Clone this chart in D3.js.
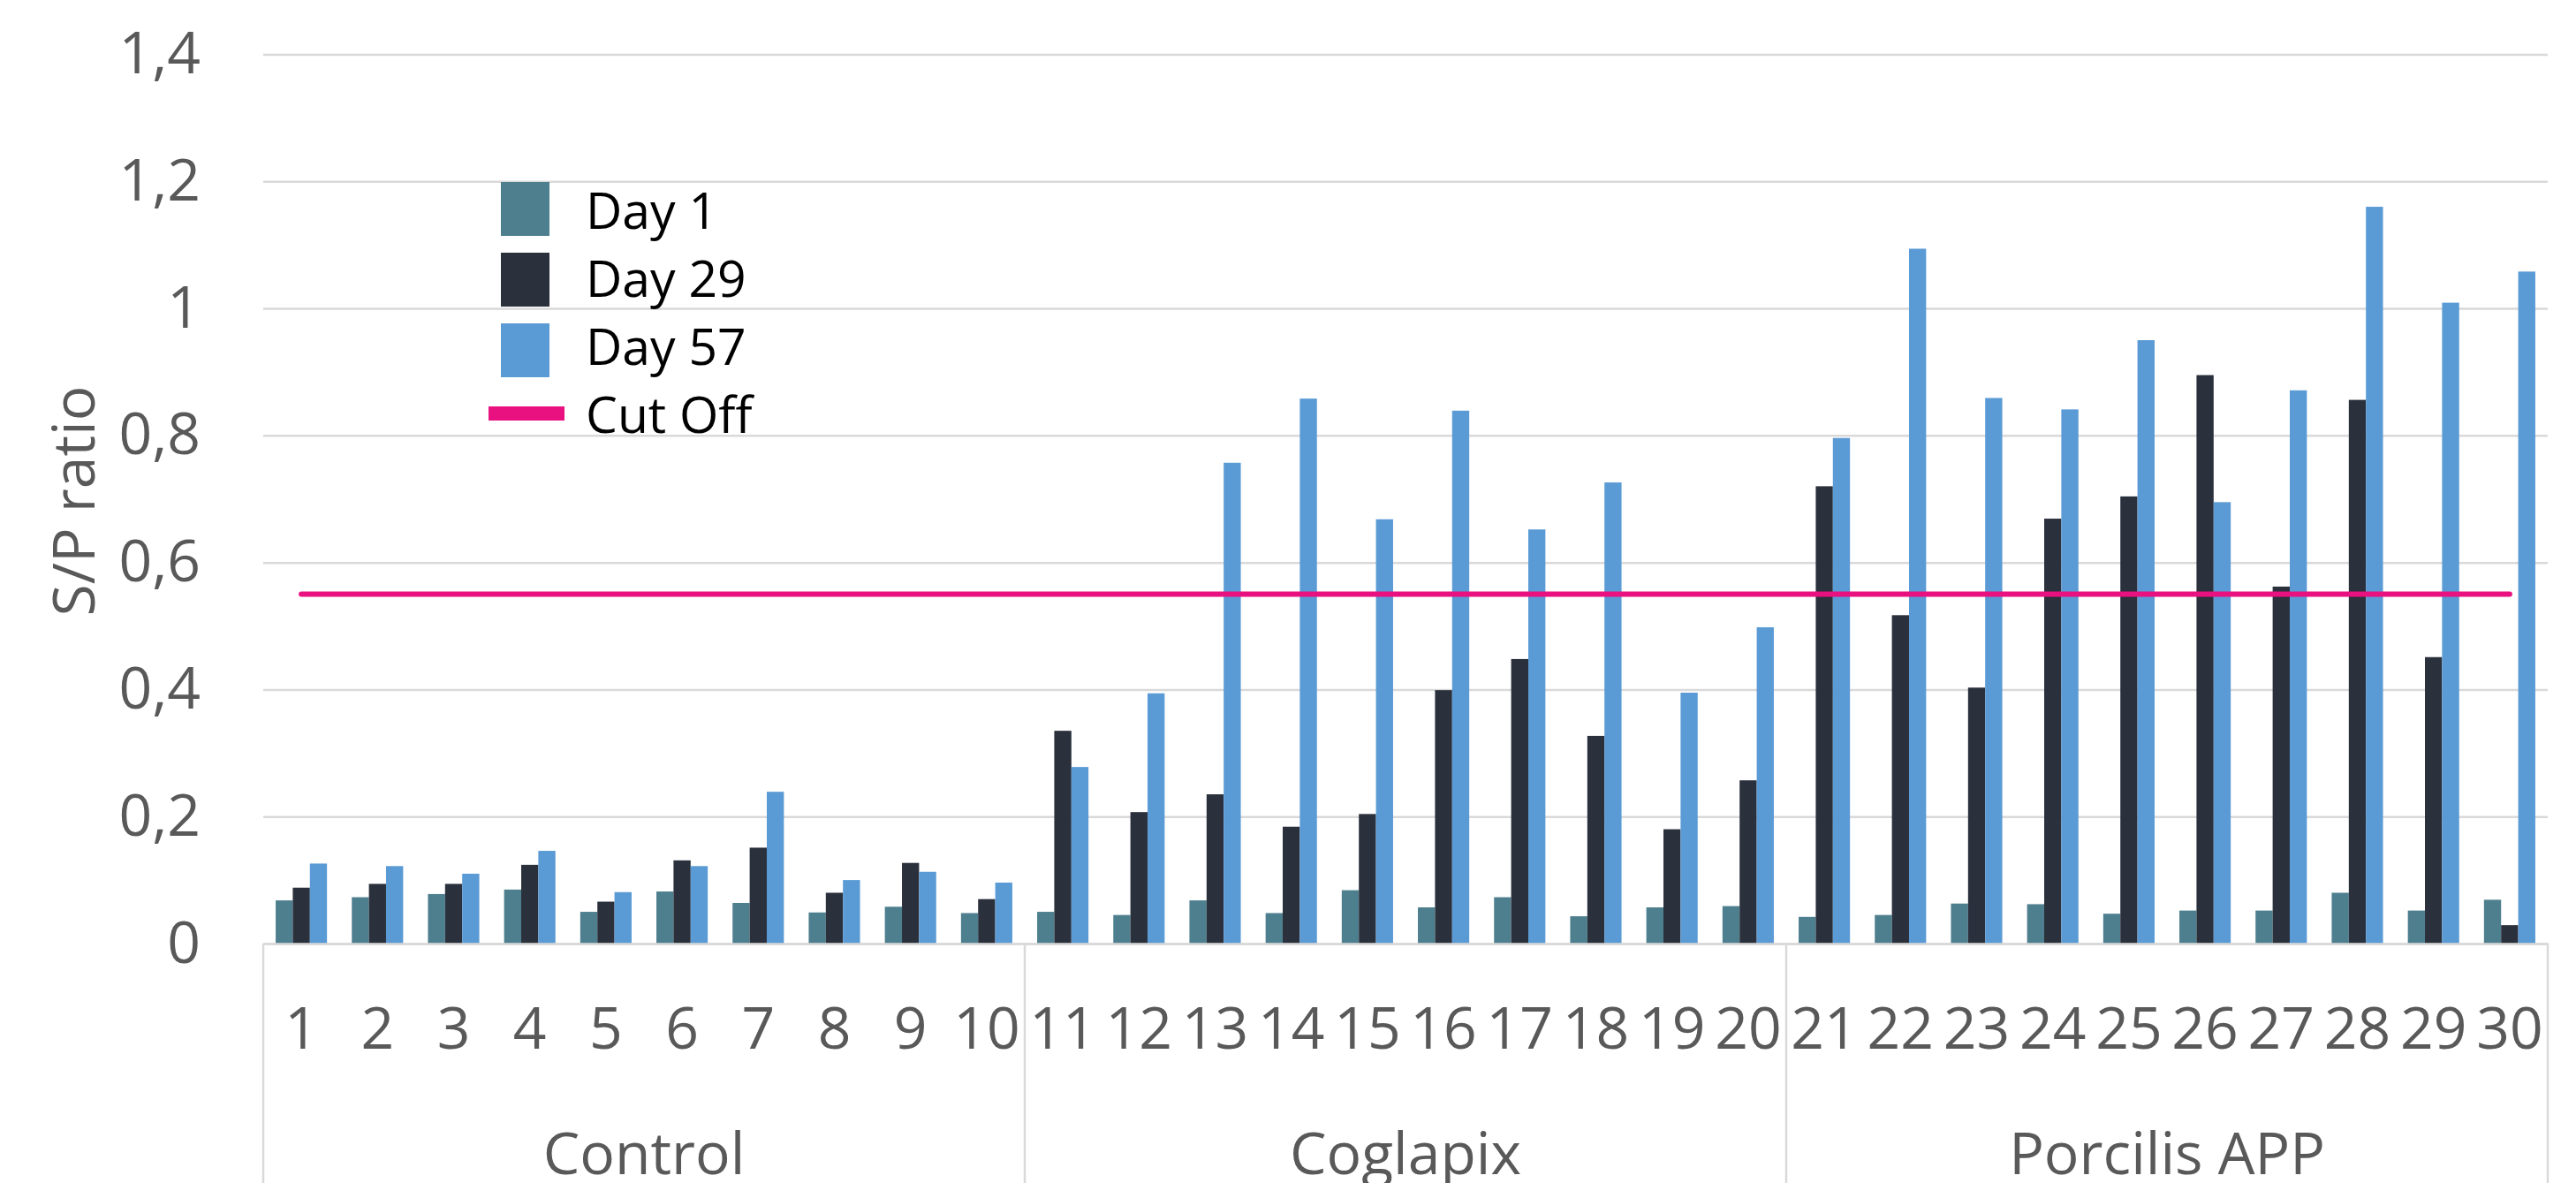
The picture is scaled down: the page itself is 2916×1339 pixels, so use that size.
<!DOCTYPE html>
<html>
<head>
<meta charset="utf-8">
<script src="https://cdnjs.cloudflare.com/ajax/libs/d3/7.8.5/d3.min.js"></script>
<style>
  body { margin: 0; background: #fff; }
  svg { display: block; }
  text { font-family: "Open Sans", sans-serif; }
</style>
</head>
<body>
<svg></svg>
<script>
// animal numbers and treatment groups
const animals = ["1","2","3","4","5","6","7","8","9","10",
                 "11","12","13","14","15","16","17","18","19","20",
                 "21","22","23","24","25","26","27","28","29","30"];
const groups = ["Control", "Coglapix", "Porcilis APP"];
const groupSize = 10;

// S/P ratio per sampling day
const day1  = [0.068,0.073,0.078,0.085,0.050,0.082,0.064,0.049,0.058,0.048,
               0.050,0.045,0.068,0.048,0.084,0.057,0.073,0.043,0.057,0.059,
               0.042,0.045,0.063,0.062,0.047,0.052,0.052,0.080,0.052,0.069];
const day29 = [0.088,0.094,0.094,0.124,0.066,0.131,0.151,0.080,0.127,0.070,
               0.335,0.207,0.235,0.184,0.204,0.399,0.448,0.327,0.180,0.257,
               0.720,0.517,0.403,0.669,0.704,0.895,0.562,0.856,0.451,0.029];
const day57 = [0.126,0.122,0.110,0.146,0.081,0.122,0.239,0.100,0.113,0.096,
               0.278,0.394,0.757,0.858,0.668,0.839,0.652,0.726,0.395,0.498,
               0.796,1.094,0.859,0.841,0.950,0.695,0.871,1.160,1.009,1.058];
const cutOff = 0.55;

const seriesNames = ["Day 1", "Day 29", "Day 57"];
const seriesColors = ["#4e7f8e", "#2a303c", "#5b9bd5"];
const yTicks = [0, 0.2, 0.4, 0.6, 0.8, 1, 1.2, 1.4];

const width = 2916, height = 1339;
const svg = d3.select("svg")
    .attr("width", width)
    .attr("height", height);

const x0 = d3.scaleBand()
    .domain(animals)
    .range([298, 2884]);

const x1 = d3.scaleBand()
    .domain(seriesNames)
    .range([0, x0.bandwidth()])
    .paddingOuter(0.725);

const y = d3.scaleLinear()
    .domain([0, 1.4])
    .range([1068, 61.5]);

const axisGrey = "#595959";
const fmt = d => String(+d.toFixed(1)).replace(".", ",");

// y axis with gridlines
const yAxis = svg.append("g")
    .attr("transform", "translate(298,0)")
    .call(d3.axisLeft(y)
        .tickValues(yTicks)
        .tickFormat(fmt)
        .tickSizeInner(-(2884 - 298))
        .tickSizeOuter(0)
        .tickPadding(71));
yAxis.select(".domain").remove();
yAxis.selectAll(".tick line")
    .attr("stroke", "#d9d9d9")
    .attr("stroke-width", 2.5);
yAxis.selectAll(".tick text")
    .attr("fill", axisGrey)
    .style("font-size", "66px");

// y axis title
svg.append("text")
    .attr("transform", "translate(107,567) rotate(-90)")
    .attr("text-anchor", "middle")
    .attr("fill", axisGrey)
    .style("font-size", "66px")
    .text("S/P ratio");

// bars
const table = animals.map((a, i) => ({
    animal: a,
    values: [day1[i], day29[i], day57[i]]
}));

const cat = svg.append("g")
    .selectAll("g")
    .data(table)
    .enter().append("g")
    .attr("transform", d => `translate(${x0(d.animal)},0)`);

cat.selectAll("rect")
    .data(d => d.values.map((v, k) => ({ key: seriesNames[k], value: v, k: k })))
    .enter().append("rect")
    .attr("x", d => x1(d.key))
    .attr("y", d => y(d.value))
    .attr("width", x1.bandwidth())
    .attr("height", d => y(0) - y(d.value))
    .attr("fill", d => seriesColors[d.k]);

// x axis: animal numbers
const xAxis = svg.append("g")
    .attr("transform", `translate(0,${y(0)})`)
    .call(d3.axisBottom(x0).tickSize(0).tickPadding(72));
xAxis.select(".domain")
    .attr("stroke", "#d9d9d9")
    .attr("stroke-width", 2.5);
xAxis.selectAll(".tick text")
    .attr("fill", axisGrey)
    .style("font-size", "66px");

// group separators and labels
const bounds = d3.range(groups.length + 1).map(g =>
    g < groups.length ? x0(animals[g * groupSize]) : x0(animals[animals.length - 1]) + x0.bandwidth());

svg.append("g")
    .selectAll("line")
    .data(bounds)
    .enter().append("line")
    .attr("x1", d => d).attr("x2", d => d)
    .attr("y1", y(0)).attr("y2", height)
    .attr("stroke", "#d9d9d9")
    .attr("stroke-width", 2.5);

svg.append("g")
    .selectAll("text")
    .data(groups)
    .enter().append("text")
    .attr("x", (d, g) => (bounds[g] + bounds[g + 1]) / 2)
    .attr("y", 1329)
    .attr("text-anchor", "middle")
    .attr("fill", axisGrey)
    .style("font-size", "66px")
    .text(d => d);

// cut off line
svg.append("line")
    .attr("x1", x0(animals[0]) + x0.bandwidth() / 2)
    .attr("x2", x0(animals[animals.length - 1]) + x0.bandwidth() / 2)
    .attr("y1", y(cutOff)).attr("y2", y(cutOff))
    .attr("stroke", "#e8117f")
    .attr("stroke-width", 6)
    .attr("stroke-linecap", "round");

// legend
const legend = svg.append("g");
seriesNames.forEach((name, k) => {
    legend.append("rect")
        .attr("x", 567)
        .attr("y", 206 + k * 80)
        .attr("width", 55)
        .attr("height", 61)
        .attr("fill", seriesColors[k]);
    legend.append("text")
        .attr("x", 663)
        .attr("y", 259 + k * 77)
        .attr("fill", "#000")
        .style("font-size", "57px")
        .text(name);
});
legend.append("line")
    .attr("x1", 553).attr("x2", 639)
    .attr("y1", 468).attr("y2", 468)
    .attr("stroke", "#e8117f")
    .attr("stroke-width", 16);
legend.append("text")
    .attr("x", 663)
    .attr("y", 490)
    .attr("fill", "#000")
    .style("font-size", "57px")
    .text("Cut Off");
</script>
</body>
</html>
